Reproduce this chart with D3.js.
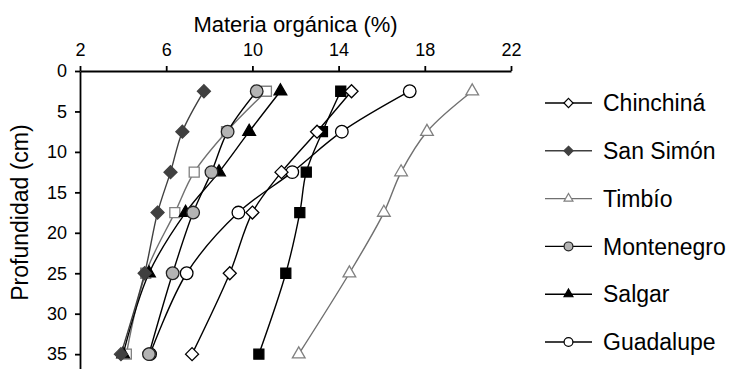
<!DOCTYPE html>
<html>
<head>
<meta charset="utf-8">
<script src="https://cdn.jsdelivr.net/npm/d3@7"></script>
<style>
  body { margin: 0; background: #fff; }
  svg text { font-family: Arial, "Liberation Sans", sans-serif; fill: #000; }
  .axis path, .axis line { stroke: #000; stroke-width: 1.8; }
  .axis text { font-size: 18px; }
</style>
</head>
<body>
<svg id="chart"></svg>
<script>
// Depth of each sample (cm)
const depths = [2.5, 7.5, 12.5, 17.5, 25, 35];

// Organic matter (%) per site, one value per depth
const chinchina  = [14.6, 13.0, 11.35, 10.0, 8.95, 7.2];
const sanSimon   = [7.75, 6.75, 6.2, 5.6, 5.0, 3.9];
const timbio     = [20.2, 18.1, 16.9, 16.1, 14.5, 12.15];
const montenegro = [10.2, 8.85, 8.1, 7.25, 6.3, 5.2];
const salgar     = [11.3, 9.85, 8.45, 6.9, 5.2, 4.0];
const guadalupe  = [17.3, 14.15, 11.85, 9.35, 6.95, 5.25];
const extraBlack = [14.1, 13.25, 12.5, 12.2, 11.55, 10.3];
const extraGray  = [10.65, 8.8, 7.3, 6.4, 5.05, 4.15];

const xTicks = [2, 6, 10, 14, 18, 22];
const yTicks = [0, 5, 10, 15, 20, 25, 30, 35];

const legendNames = ['Chinchiná', 'San Simón', 'Timbío', 'Montenegro', 'Salgar', 'Guadalupe'];

// series styling (marker shape, fill, stroke, line colour)
const series = [
  {name: legendNames[0], values: chinchina,  shape: 'diamond',  fill: '#fff',    stroke: '#000',    line: '#000'},
  {name: legendNames[1], values: sanSimon,   shape: 'diamond',  fill: '#404040', stroke: '#404040', line: '#404040'},
  {name: legendNames[2], values: timbio,     shape: 'triangle', fill: '#fff',    stroke: '#808080', line: '#707070'},
  {name: legendNames[3], values: montenegro, shape: 'circle',   fill: '#b4b4b4', stroke: '#222',    line: '#000'},
  {name: legendNames[4], values: salgar,     shape: 'triangle', fill: '#000',    stroke: '#000',    line: '#000'},
  {name: legendNames[5], values: guadalupe,  shape: 'circle',   fill: '#fff',    stroke: '#000',    line: '#000'},
  {name: null,           values: extraBlack, shape: 'square',   fill: '#000',    stroke: '#000',    line: '#000'},
  {name: null,           values: extraGray,  shape: 'square',   fill: '#fff',    stroke: '#808080', line: '#707070'}
];

const width = 732, height = 369;
const margin = {top: 71, left: 80};
const plotRight = 511;

const svg = d3.select('#chart')
    .attr('width', width)
    .attr('height', height);

const xScale = d3.scaleLinear().domain([2, 22]).range([margin.left, plotRight]);
const yScale = d3.scaleLinear().domain([0, 37]).range([margin.top, margin.top + 37 * 8.09]);

// Axes
const xAxisG = svg.append('g')
    .attr('class', 'axis x-axis')
    .attr('transform', `translate(0,${margin.top})`)
    .call(d3.axisTop(xScale).tickValues(xTicks).tickSize(5).tickSizeOuter(0).tickPadding(10));

const yAxisG = svg.append('g')
    .attr('class', 'axis y-axis')
    .attr('transform', `translate(${margin.left},0)`)
    .call(d3.axisLeft(yScale).tickValues(yTicks).tickSize(5).tickSizeOuter(0).tickPadding(8));

// Axis titles
svg.append('text')
    .attr('x', (margin.left + plotRight) / 2)
    .attr('y', 32)
    .attr('text-anchor', 'middle')
    .style('font-size', '22px')
    .text('Materia orgánica (%)');

svg.append('text')
    .attr('transform', `translate(28,${yScale(17.5)}) rotate(-90)`)
    .attr('text-anchor', 'middle')
    .style('font-size', '23px')
    .text('Profundidad (cm)');

function symbolPath(shape, scale) {
  const k = scale || 1;
  if (shape === 'diamond') {
    const r = 6.5 * k;
    return `M0,${-r}L${r},0L0,${r}L${-r},0Z`;
  }
  if (shape === 'triangle') return d3.symbol(d3.symbolTriangle, 70 * k * k)();
  if (shape === 'circle') return d3.symbol(d3.symbolCircle, 125 * k * k)();
  return d3.symbol(d3.symbolSquare, 100 * k * k)();
}

const line = d3.line()
    .x(d => xScale(d.v))
    .y(d => yScale(d.depth))
    .curve(d3.curveCatmullRom.alpha(0.5));

const chart = svg.append('g');

series.slice().reverse().forEach(s => {
  const pts = s.values.map((v, i) => ({v: v, depth: depths[i]}));
  const g = chart.append('g');
  g.append('path')
      .attr('d', line(pts))
      .attr('fill', 'none')
      .attr('stroke', s.line)
      .attr('stroke-width', 1.4);
  g.selectAll('.mark')
      .data(pts)
    .join('path')
      .attr('class', 'mark')
      .attr('transform', d => `translate(${xScale(d.v)},${yScale(d.depth)})`)
      .attr('d', symbolPath(s.shape))
      .attr('fill', s.fill)
      .attr('stroke', s.stroke)
      .attr('stroke-width', 1.3);
});

// Legend
const legend = svg.append('g').attr('class', 'legend');
const legendItems = legend.selectAll('.legend-item')
    .data(series.filter(s => s.name))
  .join('g')
    .attr('class', 'legend-item')
    .attr('transform', (d, i) => `translate(545,${103 + i * 47.8})`);

legendItems.append('line')
    .attr('x1', 0).attr('x2', 47)
    .attr('stroke', d => d.line)
    .attr('stroke-width', 1.4);

legendItems.append('path')
    .attr('transform', 'translate(23.5,0)')
    .attr('d', d => symbolPath(d.shape, 0.7))
    .attr('fill', d => d.fill)
    .attr('stroke', d => d.stroke)
    .attr('stroke-width', 1.2);

legendItems.append('text')
    .attr('x', 58)
    .attr('dy', '0.36em')
    .style('font-size', '23px')
    .text(d => d.name);
</script>
</body>
</html>
